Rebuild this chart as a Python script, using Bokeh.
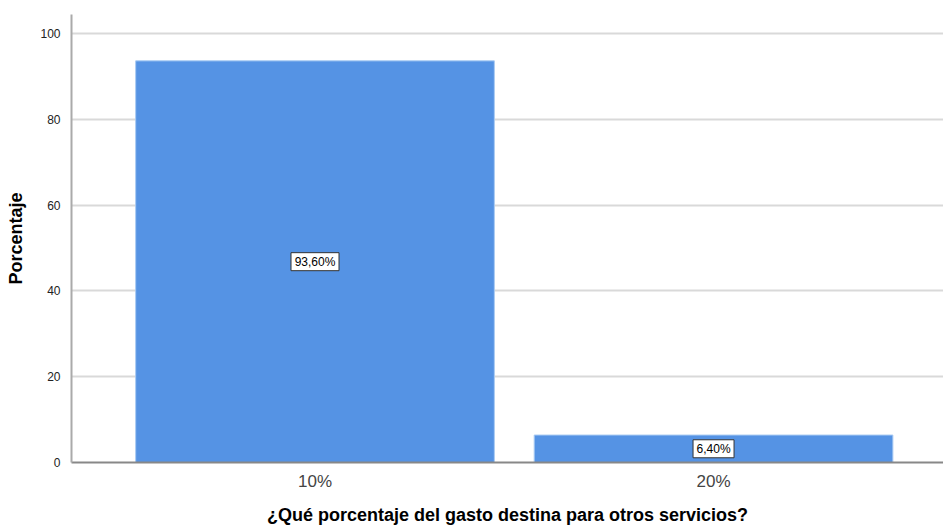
from bokeh.plotting import figure
from bokeh.models import ColumnDataSource, FixedTicker, Range1d
from bokeh.core.properties import value
from bokeh.embed import file_html
from bokeh.resources import INLINE

categories = ["10%", "20%"]
percentages = [93.6, 6.4]
value_labels = ["93,60%", "6,40%"]
y_ticks = [0, 20, 40, 60, 80, 100]

xs = [i + 1 for i in range(len(categories))]
src = ColumnDataSource(dict(x=xs, top=percentages, mid=[v / 2 for v in percentages], lab=value_labels,
                            boxw=[len(s) * 7 + 6 for s in value_labels]))

p = figure(width=943, height=527, output_backend="svg", toolbar_location=None,
           x_range=Range1d(0.389, 2.577), y_range=Range1d(0, 104.4),
           min_border_left=71, min_border_right=0, min_border_top=14, min_border_bottom=64)
p.outline_line_color = None
p.background_fill_color = "white"

p.vbar(x="x", top="top", width=0.9, source=src, fill_color="#5593E4", line_color="#A9CBF3", line_width=1)

p.rect(x="x", y="mid", width="boxw", height=18, width_units="screen", height_units="screen", source=src,
       fill_color="white", line_color="#333333", line_width=1)
p.text(x="x", y="mid", text="lab", source=src, text_align="center", text_baseline="middle",
       text_font=value("Liberation Sans"), text_font_size="12px", text_color="black")

p.xaxis.ticker = FixedTicker(ticks=xs)
p.xaxis.major_label_overrides = {x: c for x, c in zip(xs, categories)}
p.xaxis.major_tick_line_color = None
p.xaxis.minor_tick_line_color = None
p.xaxis.major_label_text_font = "Liberation Sans"
p.xaxis.major_label_text_font_size = "17px"
p.xaxis.major_label_text_color = "#444444"
p.xaxis.major_label_standoff = 3
p.xaxis.axis_label = "¿Qué porcentaje del gasto destina para otros servicios?"
p.xaxis.axis_label_text_font = "Liberation Sans"
p.xaxis.axis_label_text_font_size = "18px"
p.xaxis.axis_label_text_font_style = "bold"
p.xaxis.axis_label_text_color = "black"
p.xaxis.axis_label_standoff = 11
p.xaxis.axis_line_color = "#888888"
p.xaxis.axis_line_width = 2

p.yaxis.ticker = FixedTicker(ticks=y_ticks)
p.yaxis.major_tick_line_color = None
p.yaxis.minor_tick_line_color = None
p.yaxis.major_label_text_font = "Liberation Sans"
p.yaxis.major_label_text_font_size = "12px"
p.yaxis.major_label_text_color = "#222222"
p.yaxis.major_label_standoff = 5
p.yaxis.axis_label = "Porcentaje"
p.yaxis.axis_label_text_font = "Liberation Sans"
p.yaxis.axis_label_text_font_size = "18px"
p.yaxis.axis_label_text_font_style = "bold"
p.yaxis.axis_label_text_color = "black"
p.yaxis.axis_label_standoff = 11
p.yaxis.axis_line_color = "#AAAAAA"
p.yaxis.axis_line_width = 2

p.xgrid.grid_line_color = None
p.ygrid.grid_line_color = "#D9D9D9"
p.ygrid.grid_line_width = 2
p.ygrid.ticker = FixedTicker(ticks=y_ticks)

open("out.html", "w").write(file_html(p, INLINE))
